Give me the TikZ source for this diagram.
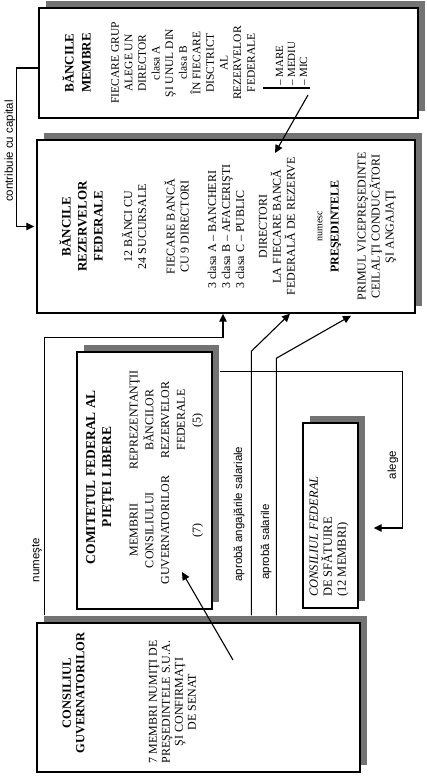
\documentclass[tikz,border=0pt]{standalone}
\usepackage{fontspec}
\setmainfont{Liberation Serif}
\newfontfamily\labelfont{Liberation Sans}
\usetikzlibrary{arrows.meta,shadows}
\tikzset{
  fed box/.style={
    draw, line width=1.4pt, fill=white, rectangle, inner sep=0pt,
    drop shadow={shadow xshift=7pt, shadow yshift=7pt, fill=black!55, opacity=1}
  },
  fed text/.style={
    rotate=90, align=center, inner sep=0pt,
    font=\fontsize{12}{14}\selectfont
  },
  fed title/.style={fed text, font=\fontsize{13}{16}\selectfont\bfseries},
  fed label/.style={rotate=90, inner sep=0pt, font=\labelfont\fontsize{11.5}{13}\selectfont},
  fed arr/.style={-{Triangle[length=8pt, width=7.5pt]}, line width=1.1pt}
}
\begin{document}
\begin{tikzpicture}[x=1pt, y=-1pt]
  \useasboundingbox (0,0) rectangle (427,776);

  % boxes
  \node[fed box, minimum width=379pt, minimum height=110pt] (membre) at (228.5,63) {};
  \node[fed box, minimum width=378pt, minimum height=173pt] (rezerve) at (226,226.5) {};
  \node[fed box, minimum width=135pt, minimum height=257pt] (comitet) at (144.5,480.5) {};
  \node[fed box, minimum width=323pt, minimum height=149pt] (guv) at (198.5,697.5) {};
  \node[fed box, minimum width=55pt, minimum height=185pt] (sfat) at (330.5,515.5) {};

  % banks
  \node[fed title, font=\fontsize{13}{17}\selectfont\bfseries] (membreT) at (76.5,63)
    {BĂNCILE\\MEMBRE};
  \node[fed text, font=\fontsize{11.5}{13.6}\selectfont] (membreB) at (183,63)
    {FIECARE GRUP\\ALEGE UN\\DIRECTOR\\clasa A\\ŞI UNUL DIN\\clasa B\\ÎN FIECARE\\DISCTRICT\\AL\\REZERVELOR\\FEDERALE};
  \node[fed text, align=left, anchor=west, font=\fontsize{11}{12}\selectfont] (sizes) at (291.5,86)
    {– MARE\\– MEDIU\\– MIC};
  \draw[line width=1.6pt] (263,88) -- (310,88);
  \coordinate (micfoot) at (308,95);
  \coordinate (dirhead) at (275,153);
  \draw[fed arr] (micfoot) -- (dirhead);

  \node[fed title] (rezT) at (81,226.5) {BĂNCILE\\REZERVELOR\\FEDERALE};
  \node[fed text] (rezA) at (134,226.5) {12 BĂNCI CU\\24 SUCURSALE};
  \node[fed text] (rezB) at (176.5,226.5) {FIECARE BANCĂ\\CU 9 DIRECTORI};
  \node[fed text, align=left] (rezC) at (226,226.5)
    {3 clasa A – BANCHERI\\3 clasa B – AFACERIŞTI\\3 clasa C – PUBLIC};
  \node[fed text] (rezD) at (277,226.5) {DIRECTORI\\LA FIECARE BANCĂ\\FEDERALĂ DE REZERVE};
  \node[fed text, font=\fontsize{10}{12}\selectfont] (rezE) at (320,226.5) {numesc};
  \node[fed text, font=\fontsize{12}{14}\selectfont\bfseries] (rezF) at (336,226.5) {PREŞEDINTELE};
  \node[fed text] (rezG) at (377,226.5) {PRIMUL VICEPREŞEDINTE\\CEILALŢI CONDUCĂTORI\\ŞI ANGAJAŢI};

  % committee and board
  \node[fed title, font=\fontsize{13.5}{16}\selectfont\bfseries] (comT) at (100,477)
    {COMITETUL FEDERAL AL\\PIEŢEI LIBERE};
  \node[fed text, font=\fontsize{12}{15.75}\selectfont] (comL) at (166.5,530)
    {MEMBRII\\CONSILIULUI\\GUVERNATORILOR\\\mbox{}\\(7)};
  \node[fed text, font=\fontsize{12}{15.75}\selectfont] (comR) at (166.5,420)
    {REPREZENTANŢII\\BĂNCILOR\\REZERVELOR\\FEDERALE\\(5)};

  \node[fed title, font=\fontsize{12.5}{13.5}\selectfont\bfseries] (guvT) at (73.5,693)
    {CONSILIUL\\GUVERNATORILOR};
  \node[fed text, font=\fontsize{12}{13}\selectfont] (guvB) at (172.5,702)
    {7 MEMBRI NUMIŢI DE\\PREŞEDINTELE S.U.A.\\ŞI CONFIRMAŢI\\DE SENAT};

  \node[fed text, align=left, anchor=west, font=\fontsize{12.5}{14}\selectfont] (sfatT) at (329,597)
    {\textit{CONSILIUL FEDERAL}\\DE SFĂTUIRE\\(12 MEMBRI)};

  % connectors
  \draw[fed arr] ([yshift=-5pt]membre.west) -- ++(-22pt,0) |- ([xshift=-2pt]rezerve.west);
  \node[fed label] (capL) at (10,151) {contribuie cu capital};

  \draw[fed arr] ([xshift=8pt, yshift=7pt]guv.north west)
    |- ([xshift=-3pt, yshift=-24pt]rezerve.south) -- ([xshift=-3pt]rezerve.south);
  \node[fed label] (numL) at (37,560) {numeşte};

  \draw[fed arr] ([xshift=215pt, yshift=7pt]guv.north west) -- ++(0,264pt)
    -- ([xshift=64pt]rezerve.south);
  \node[fed label] (angL) at (239,514) {aprobă angajările salariale};

  \draw[fed arr] ([xshift=240pt, yshift=7pt]guv.north west) -- ++(0,257pt)
    -- ([xshift=125pt, yshift=-2pt]rezerve.south);
  \node[fed label] (salL) at (266,542) {aprobă salarile};

  \coordinate (guvfoot) at (233,660);
  \coordinate (comhead) at (182,572);
  \draw[fed arr] (guvfoot) -- (comhead);

  \draw[fed arr] ([xshift=7pt, yshift=-20pt]comitet.north east) -- ++(183pt,0)
    |- ([xshift=15pt, yshift=-12.5pt]sfat.east);
  \node[fed label] (alegeL) at (393,465) {alege};
\end{tikzpicture}
\end{document}
